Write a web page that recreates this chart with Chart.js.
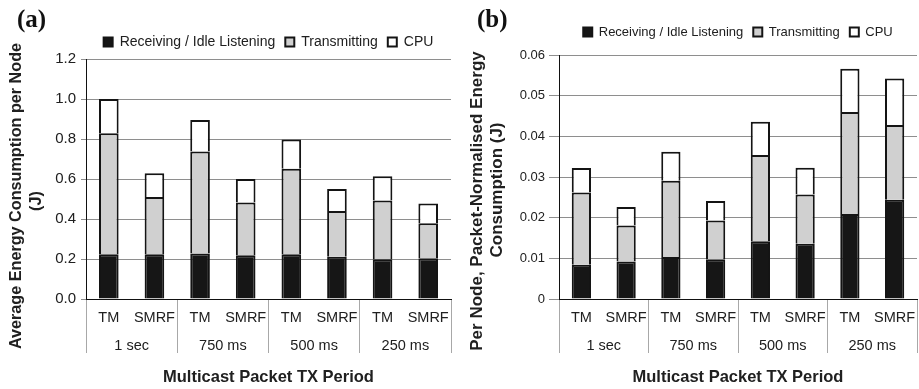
<!DOCTYPE html>
<html>
<head>
<meta charset="utf-8">
<script src="https://cdn.jsdelivr.net/npm/chart.js@4/dist/chart.umd.min.js"></script>
<style>
  html, body { margin: 0; padding: 0; background: #fff; }
  #wrap { position: relative; width: 919px; height: 389px; overflow: hidden; }
  canvas { position: absolute; top: 0; }
  .panel { position: absolute; font-family: "Liberation Serif", "Times New Roman", serif; font-weight: bold; font-size: 25px; line-height: 25px; color: #111; }
</style>
</head>
<body>
<div id="wrap">
  <canvas id="ca" width="460" height="389" style="left:0"></canvas>
  <canvas id="cb" width="459" height="389" style="left:460px"></canvas>
  <div class="panel" style="left:17px; top:6px">(a)</div>
  <div class="panel" style="left:477px; top:6px">(b)</div>
</div>
<script>
// ---- data ----
const categories = ['TM', 'SMRF', 'TM', 'SMRF', 'TM', 'SMRF', 'TM', 'SMRF'];
const periods = ['1 sec', '750 ms', '500 ms', '250 ms'];
const seriesNames = ['Receiving / Idle Listening', 'Transmitting', 'CPU'];

// (a) Average energy consumption per node (J)
const receivingA = [0.224, 0.224, 0.228, 0.219, 0.224, 0.211, 0.199, 0.204];
const transmittingA = [0.605, 0.286, 0.509, 0.263, 0.427, 0.229, 0.294, 0.175];
const cpuA = [0.171, 0.119, 0.158, 0.118, 0.146, 0.110, 0.121, 0.098];

// (b) Per node, packet-normalised energy consumption (J)
const receivingB = [0.0084, 0.0092, 0.0103, 0.0098, 0.0142, 0.0136, 0.0209, 0.0244];
const transmittingB = [0.0178, 0.0089, 0.0188, 0.0095, 0.0212, 0.0121, 0.0251, 0.0184];
const cpuB = [0.0060, 0.0045, 0.0071, 0.0048, 0.0082, 0.0066, 0.0106, 0.0114];

const yMaxA = 1.2, yStepA = 0.2;
const yMaxB = 0.06, yStepB = 0.01;
const xTitle = 'Multicast Packet TX Period';
const yTitleA = ['Average Energy Consumption per Node', '(J)'];
const yTitleB = ['Per Node, Packet-Normalised Energy', 'Consumption (J)'];

// ---- styles ----
const FONT = '"Liberation Sans", Arial, sans-serif';
const TEXT = '#202020';
const GRID = '#8e8e8e';
const SEP = '#a8a8a8';
const colors = ['#161616', '#d0d0d0', '#ffffff'];

const yTitlePlugin = {
  id: 'yTitle',
  afterDraw(chart, args, opts) {
    const ctx = chart.ctx;
    ctx.save();
    ctx.font = 'bold ' + opts.size + 'px ' + FONT;
    ctx.fillStyle = TEXT;
    ctx.textAlign = 'center';
    ctx.textBaseline = 'middle';
    opts.lines.forEach((line, i) => {
      ctx.save();
      ctx.translate(opts.x[i], opts.cy[i]);
      ctx.rotate(-Math.PI / 2);
      ctx.fillText(line, 0, 0);
      ctx.restore();
    });
    ctx.restore();
  }
};

function makeChart(id, cfg) {
  const datasets = [cfg.recv, cfg.trans, cfg.cpu].map((d, i) => ({
    label: seriesNames[i],
    data: d,
    backgroundColor: colors[i],
    borderColor: '#141414',
    borderWidth: 2,
    borderSkipped: 'bottom',
    barPercentage: 0.43,
    categoryPercentage: 1.0,
    xAxisID: 'x',
    yAxisID: 'y'
  }));
  return new Chart(document.getElementById(id), {
    type: 'bar',
    data: { labels: categories, datasets },
    plugins: [yTitlePlugin],
    options: {
      responsive: false,
      animation: false,
      devicePixelRatio: 1,
      layout: { padding: { top: cfg.padTop, left: 0, right: cfg.padRight, bottom: 0 } },
      plugins: {
        legend: {
          position: 'top',
          fullSize: false,
          labels: {
            boxWidth: 9, boxHeight: 9, padding: 10,
            color: TEXT,
            font: { family: FONT, size: cfg.legendSize }
          }
        },
        tooltip: { enabled: false },
        yTitle: { lines: cfg.yTitle, x: cfg.yTitleX, cy: cfg.yTitleY, size: cfg.yTitleSize }
      },
      scales: {
        xTop: {
          type: 'category', position: 'top', labels: [''],
          grid: { display: false }, border: { display: false }, ticks: { display: false },
          afterFit: s => { s.height = cfg.topGap; }
        },
        x: {
          type: 'category', position: 'bottom', stacked: true, weight: 0, offset: true,
          grid: {
            offset: true, drawOnChartArea: false, drawTicks: true, tickLength: 27, lineWidth: 1,
            color: ctx => (ctx.index === undefined || ctx.index % 2 === 0) ? SEP : 'rgba(0,0,0,0)'
          },
          border: { display: true, color: '#111', width: 1 },
          ticks: { color: TEXT, font: { family: FONT, size: 14.5 }, padding: -16.7, autoSkip: false, maxRotation: 0 },
          afterFit: s => { s.height = 27; }
        },
        x2: {
          type: 'category', position: 'bottom', labels: periods, weight: 1, offset: true,
          grid: { offset: true, drawOnChartArea: false, drawTicks: true, tickLength: 27, color: SEP, lineWidth: 1 },
          border: { display: false },
          ticks: { color: TEXT, font: { family: FONT, size: 14.5 }, padding: -15.7, autoSkip: false, maxRotation: 0 },
          title: { display: true, text: xTitle, color: TEXT, font: { family: FONT, size: 16.5, weight: 'bold' }, padding: { top: 0, bottom: 1.5 } },
          afterFit: s => { s.height = 63; }
        },
        y: {
          type: 'linear', stacked: true, min: 0, max: cfg.yMax,
          ticks: {
            stepSize: cfg.yStep, color: TEXT, padding: cfg.tickPad,
            font: { family: FONT, size: cfg.yTickSize },
            callback: cfg.fmt
          },
          grid: { color: GRID, lineWidth: 1, tickLength: cfg.tickLen },
          border: { display: true, color: '#111', width: 1 },
          afterFit: s => { s.width = cfg.yWidth; }
        }
      }
    }
  });
}

makeChart('ca', {
  recv: receivingA, trans: transmittingA, cpu: cpuA,
  yMax: yMaxA, yStep: yStepA, fmt: v => v.toFixed(1),
  padTop: 25, padRight: 9, topGap: 0, yWidth: 86, tickPad: 5, tickLen: 5,
  legendSize: 14, yTickSize: 15,
  yTitle: yTitleA, yTitleX: [17, 37], yTitleY: [196, 201], yTitleSize: 16.2
});

makeChart('cb', {
  recv: receivingB, trans: transmittingB, cpu: cpuB,
  yMax: yMaxB, yStep: yStepB, fmt: v => (v === 0 ? '0' : v.toFixed(2)),
  padTop: 15.5, padRight: 2, topGap: 6.5, yWidth: 99, tickPad: 4, tickLen: 10,
  legendSize: 13, yTickSize: 13,
  yTitle: yTitleB, yTitleX: [17, 37], yTitleY: [201, 190], yTitleSize: 17
});
</script>
</body>
</html>
